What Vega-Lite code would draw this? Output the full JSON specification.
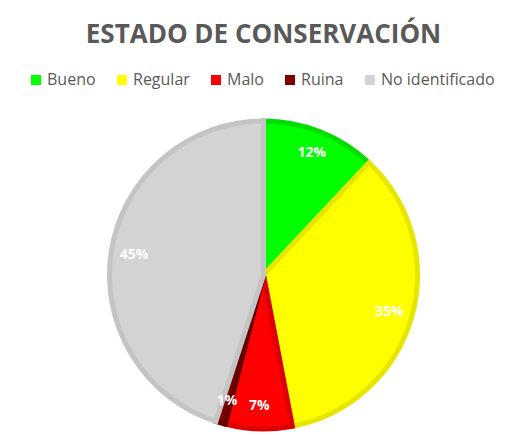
{
  "$schema": "https://vega.github.io/schema/vega-lite/v6.json",
  "width": 487,
  "height": 320,
  "autosize": "none",
  "padding": {"left": 20, "top": 115, "right": 0, "bottom": 0},
  "background": "white",
  "title": {
    "text": "ESTADO DE CONSERVACIÓN",
    "font": "Open Sans",
    "fontSize": 26,
    "fontWeight": "bold",
    "color": "#595959",
    "anchor": "middle",
    "offset": 24
  },
  "data": {
    "values": [
      {"estado": "Bueno", "pct": 12, "orden": 1, "label": "12%"},
      {"estado": "Regular", "pct": 35, "orden": 2, "label": "35%"},
      {"estado": "Malo", "pct": 7, "orden": 3, "label": "7%"},
      {"estado": "Ruina", "pct": 1, "orden": 4, "label": "1%"},
      {"estado": "No identificado", "pct": 45, "orden": 5, "label": "45%"}
    ]
  },
  "encoding": {
    "theta": {"field": "pct", "type": "quantitative", "stack": true},
    "order": {"field": "orden", "type": "quantitative"}
  },
  "layer": [
    {
      "mark": {"type": "arc", "radius": 154, "strokeWidth": 5, "strokeJoin": "miter"},
      "encoding": {
        "color": {
          "field": "estado",
          "type": "nominal",
          "scale": {
            "domain": ["Bueno", "Regular", "Malo", "Ruina", "No identificado"],
            "range": ["#00FF00", "#FFFF00", "#FF0000", "#800000", "#D3D3D3"]
          },
          "legend": {
            "orient": "none",
            "direction": "horizontal",
            "legendX": 8,
            "legendY": -43,
            "title": null,
            "padding": 0,
            "symbolType": "square",
            "symbolSize": 100,
            "symbolStrokeWidth": 0,
            "labelFont": "Open Sans",
            "labelFontSize": 16,
            "labelColor": "#595959",
            "labelOffset": 3,
            "columnPadding": 18
          }
        },
        "stroke": {
          "field": "estado",
          "type": "nominal",
          "scale": {
            "domain": ["Bueno", "Regular", "Malo", "Ruina", "No identificado"],
            "range": ["#00DD00", "#E6E600", "#DD0000", "#650000", "#C4C4C4"]
          },
          "legend": null
        }
      }
    },
    {
      "mark": {"type": "text", "radius": 131, "fill": "white", "fontWeight": "bold", "fontSize": 14, "font": "Open Sans"},
      "encoding": {
        "text": {"field": "label", "type": "nominal"}
      }
    }
  ]
}
